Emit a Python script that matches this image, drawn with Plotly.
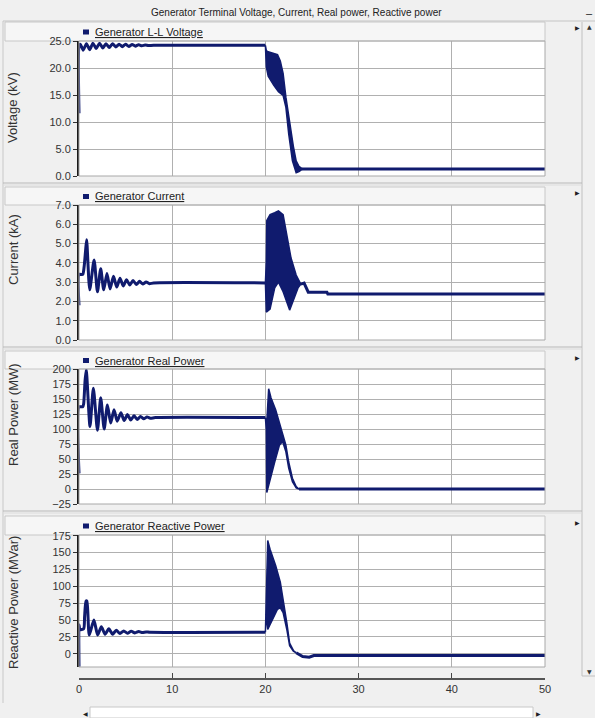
import plotly.graph_objects as go

# ---------------- data ----------------
# Generator L-L Voltage (kV)
v_t = [0, 0, 0.15, 0.45, 0.8, 1.15, 1.5, 1.85, 2.2, 2.55, 2.9, 3.25, 3.6, 3.95, 4.3, 4.65,
       5.0, 5.35, 5.7, 6.05, 6.4, 6.75, 7.1, 7.45, 8.0, 20.0]
v_val = [11.6, 24.0, 24.4, 23.3, 24.5, 23.4, 24.6, 23.6, 24.6, 23.7, 24.5, 23.8, 24.5, 23.9, 24.4, 23.95,
         24.4, 24.0, 24.35, 24.05, 24.3, 24.1, 24.25, 24.15, 24.2, 24.2]
v_up_t = [20.0, 20.1, 20.3, 20.8, 21.3, 21.6, 21.9, 22.2, 22.5, 22.7, 23.0, 23.3, 23.6, 23.9]
v_up = [24.2, 23.2, 23.0, 22.8, 22.5, 21.3, 19.0, 14.6, 11.0, 8.4, 5.5, 2.8, 1.8, 1.4]
v_lo_t = [20.0, 20.1, 20.3, 20.9, 21.4, 21.9, 22.2, 22.5, 22.9, 23.3, 23.6, 23.9]
v_lo = [24.2, 20.2, 18.5, 16.8, 15.6, 14.9, 12.7, 7.8, 2.8, 0.6, 0.8, 1.2]
v_post_t = [23.9, 50.0]
v_post = [1.3, 1.3]

# Generator Current (kA)
i_t = [0, 0, 0.4, 0.55, 0.7, 0.82, 1.15, 1.62, 1.98, 2.33, 2.65, 3.0, 3.33, 3.7, 4.05, 4.4, 4.75,
       5.1, 5.45, 5.8, 6.15, 6.5, 6.85, 7.2, 7.55, 8.0, 20.0]
i_val = [1.8, 3.4, 3.4, 3.8, 4.6, 5.2, 2.6, 4.15, 2.5, 3.7, 2.6, 3.45, 2.65, 3.3, 2.75, 3.2, 2.8,
         3.12, 2.85, 3.08, 2.88, 3.04, 2.9, 3.01, 2.92, 2.96, 2.96]
i_up_t = [20.0, 20.1, 20.15, 20.5, 21.0, 21.4, 21.9, 22.4, 22.75, 23.3, 23.8]
i_up = [2.96, 4.1, 6.2, 6.5, 6.6, 6.7, 6.5, 5.1, 4.25, 3.37, 2.9]
i_lo_t = [20.0, 20.1, 20.5, 21.0, 21.4, 21.9, 22.6, 22.9, 23.5, 23.8]
i_lo = [2.96, 1.45, 1.6, 2.7, 3.0, 2.5, 1.55, 1.98, 2.7, 2.9]
i_post_t = [23.8, 24.15, 24.6, 26.6, 26.7, 50.0]
i_post = [2.9, 2.95, 2.48, 2.48, 2.38, 2.38]

# Generator Real Power (MW)
p_t = [0, 0, 0.4, 0.5, 0.65, 0.78, 1.18, 1.54, 1.98, 2.33, 2.7, 3.05, 3.4, 3.76, 4.1, 4.5, 4.85,
       5.2, 5.55, 5.9, 6.25, 6.6, 6.95, 7.3, 7.65, 8.2, 20.0]
p_val = [26, 137, 137, 142, 180, 199, 104, 168, 98, 152, 100, 140, 110, 132, 113, 127, 114,
         124, 115, 122, 116, 121, 117, 120, 118, 119, 119]
p_up_t = [20.0, 20.1, 20.35, 20.6, 21.1, 21.6, 22.2, 22.5, 22.9, 23.3, 23.6]
p_up = [119, 98, 167, 152, 132, 107, 73, 45, 18, 4, 0.5]
p_lo_t = [20.0, 20.1, 20.15, 20.5, 21.0, 21.5, 21.85, 22.2, 22.5, 22.9, 23.3, 23.6]
p_lo = [119, 98, -6, 12, 45, 73, 79, 62, 35, 12, 2, 0]
p_post_t = [23.6, 50.0]
p_post = [0, 0]

# Generator Reactive Power (MVar)
q_t = [0, 0, 0.1, 0.5, 0.6, 0.75, 0.85, 1.1, 1.6, 2.0, 2.4, 2.8, 3.2, 3.6, 4.0, 4.4, 4.8,
       5.2, 5.6, 6.0, 6.4, 6.8, 7.2, 7.6, 20.0]
q_val = [-19, 43, 36, 37, 55, 78, 78, 28, 50, 28, 40, 29, 37, 29, 35, 30, 34,
         30.5, 33.5, 31, 33, 31.5, 32.5, 32, 32]
q_up_t = [20.0, 20.05, 20.25, 20.5, 21.1, 21.6, 21.9, 22.3, 22.6, 23.0, 23.3]
q_up = [32, 58, 168, 155, 131, 106, 81, 46, 16, 5, 1.5]
q_lo_t = [20.0, 20.05, 20.25, 20.4, 20.8, 21.3, 21.6, 21.9, 22.3, 22.6, 23.0, 23.3]
q_lo = [32, 58, 36, 41, 51, 66, 68, 61, 36, 12, 4, 1.5]
q_post_t = [23.3, 24.0, 24.7, 25.2, 50.0]
q_post = [1.5, -4, -5, -2.5, -2.5]

x_ticks = [0, 10, 20, 30, 40, 50]
titles = ["Voltage (kV)", "Current (kA)", "Real Power (MW)", "Reactive Power (MVar)"]
legends = ["Generator L-L Voltage", "Generator Current", "Generator Real Power",
           "Generator Reactive Power"]
chart_title = "Generator Terminal Voltage, Current, Real power, Reactive power"

# ---------------- styling / layout ----------------
W, H = 595, 718
NAVY = "#101b6e"
FONT = "Liberation Sans"


def px(x):
    return x / W


def py(y):
    return 1 - y / H


# plot area pixel boxes (top, bottom)
areas = [(41, 176), (205, 340), (369, 504), (535, 667)]
headers = [(22, 41), (187, 205), (351, 369), (516, 535)]
XL, XR = 79, 545

fig = go.Figure()

series = [
    (v_t, v_val, v_up_t, v_up, v_lo_t, v_lo, v_post_t, v_post),
    (i_t, i_val, i_up_t, i_up, i_lo_t, i_lo, i_post_t, i_post),
    (p_t, p_val, p_up_t, p_up, p_lo_t, p_lo, p_post_t, p_post),
    (q_t, q_val, q_up_t, q_up, q_lo_t, q_lo, q_post_t, q_post),
]

for k, (t, val, ut, uv, lt, lv, pt, pv) in enumerate(series):
    xa = "x" if k == 0 else f"x{k+1}"
    ya = "y" if k == 0 else f"y{k+1}"
    fig.add_trace(go.Scatter(x=t, y=val, mode="lines", xaxis=xa, yaxis=ya,
                             line=dict(color=NAVY, width=3, shape="spline", smoothing=0.6),
                             showlegend=False, hoverinfo="skip"))
    fig.add_trace(go.Scatter(x=ut + lt[::-1], y=uv + lv[::-1], mode="lines", xaxis=xa, yaxis=ya,
                             fill="toself", fillcolor=NAVY,
                             line=dict(color=NAVY, width=1.5),
                             showlegend=False, hoverinfo="skip"))
    fig.add_trace(go.Scatter(x=pt, y=pv, mode="lines", xaxis=xa, yaxis=ya,
                             line=dict(color=NAVY, width=3),
                             showlegend=False, hoverinfo="skip"))

yranges = [[0, 25], [0, 7], [-25, 200], [-19.5, 176]]
ytickvals = [[0, 5, 10, 15, 20, 25], [0, 1, 2, 3, 4, 5, 6, 7],
             [-25, 0, 25, 50, 75, 100, 125, 150, 175, 200],
             [0, 25, 50, 75, 100, 125, 150, 175]]
yfmt = [".1f", ".1f", "d", "d"]

layout = dict(
    width=W, height=H, autosize=False,
    margin=dict(l=0, r=0, t=0, b=0, pad=0),
    paper_bgcolor="#f0f0f0", plot_bgcolor="white",
    font=dict(family=FONT, size=11, color="#333333"),
    showlegend=False,
)

for k in range(4):
    top, bot = areas[k]
    xn = "xaxis" if k == 0 else f"xaxis{k+1}"
    yn = "yaxis" if k == 0 else f"yaxis{k+1}"
    xa = dict(domain=[px(XL), px(XR)], range=[0, 50], tickvals=x_ticks,
              showgrid=True, gridcolor="#b0b0b0", gridwidth=1, zeroline=False,
              showticklabels=False, ticks="", showline=False, automargin=False,
              anchor="y" if k == 0 else f"y{k+1}", fixedrange=True)
    if k == 3:
        xa.update(anchor="free", position=(H - 679) / H, showticklabels=True,
                  ticks="inside", ticklen=5, tickcolor="#444444", tickwidth=1.2,
                  showline=True, linecolor="#555555", linewidth=1.5,
                  tickfont=dict(family=FONT, size=11, color="#333333"))
    layout[xn] = xa
    layout[yn] = dict(domain=[py(bot), py(top)], range=yranges[k], tickvals=ytickvals[k],
                      tickformat=yfmt[k], showgrid=True, gridcolor="#b0b0b0", gridwidth=1,
                      zeroline=False, showline=True, linecolor="#1a1a1a", linewidth=2,
                      ticks="outside", ticklen=4, tickcolor="#333333", automargin=False,
                      tickfont=dict(family=FONT, size=11, color="#333333"),
                      anchor="x" if k == 0 else f"x{k+1}", fixedrange=True)

fig.update_layout(**layout)

shapes = []
annotations = []


def note(text, x, y, size=11, family=FONT, color="#222222", xanchor="center", angle=0):
    annotations.append(dict(text=text, xref="paper", yref="paper", x=px(x), y=py(y),
                            xanchor=xanchor, yanchor="middle", textangle=angle,
                            showarrow=False, borderpad=0,
                            font=dict(family=family, size=size, color=color)))


# title bar
shapes.append(dict(type="line", xref="paper", yref="paper", x0=px(3), x1=1, y0=py(21), y1=py(21),
                   line=dict(color="#c4c4c4", width=1)))
shapes.append(dict(type="line", xref="paper", yref="paper", x0=px(3), x1=px(3), y0=py(21), y1=py(703),
                   line=dict(color="#c8c8c8", width=1)))
note(chart_title, 296, 12.5, size=10)
note("–", 589, 13, size=11)

# right scroll bar
shapes.append(dict(type="line", xref="paper", yref="paper", x0=px(582), x1=px(582), y0=py(22), y1=py(676),
                   line=dict(color="#c0c0c0", width=1)))
shapes.append(dict(type="line", xref="paper", yref="paper", x0=px(582), x1=1, y0=py(676), y1=py(676),
                   line=dict(color="#c0c0c0", width=1)))
note("▲", 589, 27, size=6, family="DejaVu Sans", color="#333333")
note("▼", 589, 671, size=6, family="DejaVu Sans", color="#333333")

for k in range(4):
    top, bot = areas[k]
    htop, hbot = headers[k]
    # header band
    shapes.append(dict(type="rect", xref="paper", yref="paper", x0=px(5), x1=px(XR),
                       y0=py(hbot), y1=py(htop), fillcolor="#f6f6f6",
                       line=dict(color="#c8c8c8", width=1), layer="below"))
    # plot frame
    shapes.append(dict(type="rect", xref="paper", yref="paper", x0=px(XL), x1=px(XR),
                       y0=py(bot), y1=py(top), line=dict(color="#a8a8a8", width=1)))
    # panel separator
    if k < 3:
        sep = [183, 347, 511][k]
        shapes.append(dict(type="line", xref="paper", yref="paper", x0=px(3), x1=px(582),
                           y0=py(sep), y1=py(sep), line=dict(color="#b8b8b8", width=1)))
        shapes.append(dict(type="line", xref="paper", yref="paper", x0=px(3), x1=px(582),
                           y0=py(sep + 2), y1=py(sep + 2), line=dict(color="#dcdcdc", width=1)))
    # legend entry
    ly = (htop + hbot) / 2 + 0.5
    shapes.append(dict(type="rect", xref="paper", yref="paper", x0=px(83), x1=px(89),
                       y0=py(ly + 2.5), y1=py(ly - 2.5), fillcolor=NAVY, line=dict(width=0)))
    note(f"<u>{legends[k]}</u>", 94, ly, size=11, xanchor="left")
    # side arrow
    note("▶", 577, htop + 6, size=6, family="DejaVu Sans")

# y axis titles
title_centres = [108, 250, 415, 603]
for k in range(4):
    note(titles[k], 13, title_centres[k], size=13, color="#333333", angle=-90)

# bottom scroll bar
shapes.append(dict(type="rect", xref="paper", yref="paper", x0=px(90), x1=px(533),
                   y0=py(718), y1=py(707), fillcolor="white", line=dict(color="#c8c8c8", width=1)))
note("◀", 85, 713, size=6, family="DejaVu Sans")
note("▶", 538, 713, size=6, family="DejaVu Sans")

fig.update_layout(shapes=shapes, annotations=annotations)
fig.write_html(
    "out.html",
    config={"displayModeBar": False},
    post_script="document.documentElement.style.margin='0';"
                "document.body.style.margin='0';document.body.style.overflow='hidden';",
)
